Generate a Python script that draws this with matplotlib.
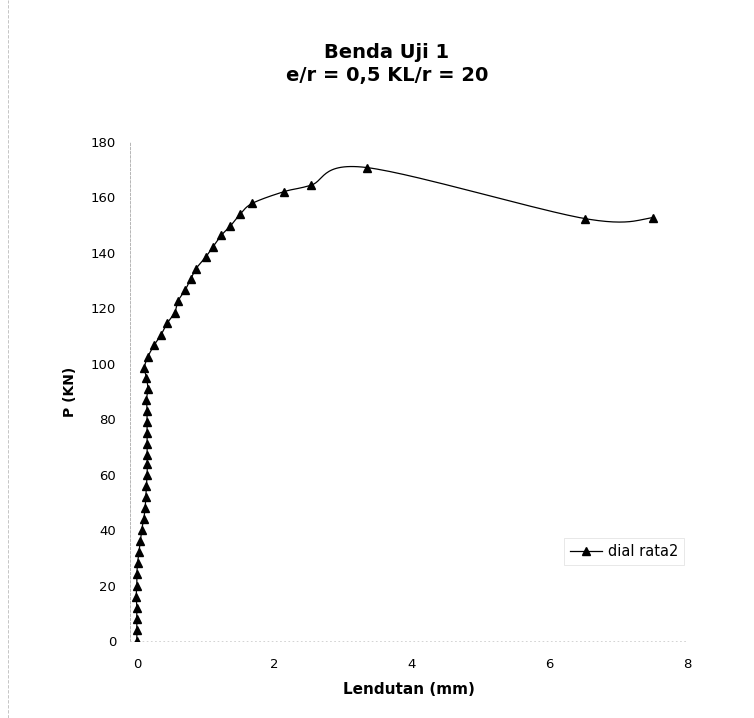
import numpy as np
from matplotlib import pyplot as plt
from matplotlib.lines import Line2D

# data (Lendutan in mm, P in kN)
lendutan = [0.00, 0.00, 0.00, 0.00, -0.01, 0.00, 0.00, 0.01, 0.03, 0.05,
            0.07, 0.10, 0.12, 0.13, 0.14, 0.15, 0.15, 0.15, 0.15, 0.15,
            0.15, 0.15, 0.14, 0.16, 0.14, 0.11, 0.16,
            0.25, 0.35, 0.44, 0.55, 0.60, 0.70, 0.78, 0.86, 1.00, 1.11,
            1.23, 1.36, 1.50, 1.68, 2.14, 2.53, 3.34, 6.51, 7.51]
beban = [0, 4, 8, 12, 16, 20, 24, 28, 32, 36,
         40, 44, 48, 52, 56, 60, 64, 67, 71, 75,
         79, 83, 87, 91, 95, 98.6, 102.5,
         106.7, 110.4, 114.6, 118.5, 122.7, 126.5, 130.5, 134.3, 138.5, 142.3,
         146.4, 149.7, 153.9, 157.9, 162.1, 164.4, 170.8, 152.4, 152.7]

series_label = 'dial rata2'
x_ticks = [0, 2, 4, 6, 8]
y_ticks = list(range(0, 181, 20))


def smooth_line(x, y, n=30):
    # excel-like smoothed line: bezier segments with catmull-rom control points
    x = np.asarray(x, float)
    y = np.asarray(y, float)
    pts = np.column_stack([x, y])
    out = [pts[0]]
    t = np.linspace(0, 1, n)[1:, None]
    for i in range(len(pts) - 1):
        p0 = pts[i - 1] if i > 0 else pts[i]
        p1 = pts[i]
        p2 = pts[i + 1]
        p3 = pts[i + 2] if i + 2 < len(pts) else pts[i + 1]
        c1 = p1 + (p2 - p0) / 6
        c2 = p2 - (p3 - p1) / 6
        seg = ((1 - t) ** 3) * p1 + 3 * ((1 - t) ** 2) * t * c1 \
            + 3 * (1 - t) * t ** 2 * c2 + t ** 3 * p2
        out.extend(seg)
    out = np.array(out)
    return out[:, 0], out[:, 1]


def main():
    plt.rcParams['font.family'] = 'DejaVu Sans'

    fig = plt.figure(figsize=(7.54, 7.18), dpi=100)
    ax = fig.add_axes([0.1724, 0.1072, 0.7388, 0.695])

    sx, sy = smooth_line(lendutan, beban)
    ax.plot(sx, sy, color='black', lw=0.9, zorder=2)
    ax.plot(lendutan, beban, ls='none', marker='^', ms=5.5, color='black', zorder=3)

    ax.set_xlim(-0.1, 8.0)
    ax.set_ylim(0, 180)
    ax.set_xticks(x_ticks)
    ax.set_yticks(y_ticks)
    ax.tick_params(length=0, labelsize=9.5)
    ax.tick_params(axis='y', pad=10)
    ax.tick_params(axis='x', pad=12)

    for side in ['top', 'right']:
        ax.spines[side].set_visible(False)
    ax.spines['left'].set_color('#aaaaaa')
    ax.spines['left'].set_linestyle((0, (3, 2)))
    ax.spines['left'].set_linewidth(0.6)
    ax.spines['bottom'].set_color('#cccccc')
    ax.spines['bottom'].set_linestyle((0, (1, 4)))
    ax.spines['bottom'].set_linewidth(0.6)

    ax.set_xlabel('Lendutan (mm)', fontsize=11, fontweight='bold', labelpad=8)
    ax.set_ylabel('P (KN)', fontsize=10, fontweight='bold', labelpad=10)

    fig.text(0.513, 0.927, 'Benda Uji 1', ha='center', va='center',
             fontsize=14, fontweight='bold')
    fig.text(0.513, 0.895, 'e/r = 0,5 KL/r = 20', ha='center', va='center',
             fontsize=14, fontweight='bold')

    handle = Line2D([], [], color='black', lw=0.9, marker='^', ms=5.5)
    leg = ax.legend([handle], [series_label], loc='center',
                    bbox_to_anchor=(0.828, 0.232), bbox_transform=fig.transFigure,
                    fontsize=10.5, frameon=True, fancybox=False,
                    handlelength=2.2, handletextpad=0.4, borderpad=0.4)
    leg.get_frame().set_edgecolor('#dddddd')
    leg.get_frame().set_linewidth(0.6)

    # faint border line of the chart area on the left
    fig.add_artist(Line2D([0.011, 0.011], [0.0, 1.0], transform=fig.transFigure,
                          color='#bbbbbb', lw=0.6, ls=(0, (4, 2))))

    fig.savefig('out.png', dpi=100)


if __name__ == '__main__':
    main()
